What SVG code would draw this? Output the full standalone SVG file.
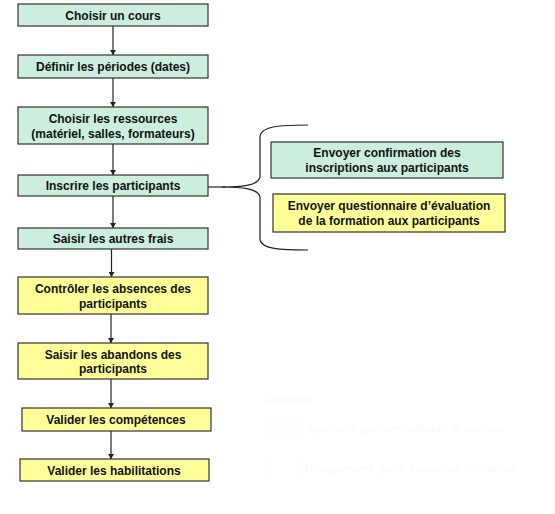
<svg xmlns="http://www.w3.org/2000/svg" width="555" height="514" viewBox="0 0 555 514">
<style>
  .g { fill: #cceedd; stroke: #333333; stroke-width: 1.2; }
  .y { fill: #ffff99; stroke: #333333; stroke-width: 1.2; }
  text { font-family: "Liberation Sans", Arial, sans-serif; font-size: 12px; font-weight: bold; fill: #111111; text-anchor: middle; }
  .conn { stroke: #222222; stroke-width: 1.2; fill: none; }
  .leg text { fill: #fafafa; text-anchor: start; }
</style>
<defs>
  <marker id="ah" markerWidth="6" markerHeight="6" refX="5" refY="3" orient="auto" markerUnits="userSpaceOnUse">
    <path d="M0,0 L5,3 L0,6 Z" fill="#222222"/>
  </marker>
</defs>
<rect width="555" height="514" fill="#ffffff"/>
<g id="connectors">
  <line class="conn" x1="113" y1="26" x2="113" y2="55" marker-end="url(#ah)"/>
  <line class="conn" x1="113" y1="78" x2="113" y2="107" marker-end="url(#ah)"/>
  <line class="conn" x1="113" y1="144" x2="113" y2="175" marker-end="url(#ah)"/>
  <line class="conn" x1="113" y1="196" x2="113" y2="228" marker-end="url(#ah)"/>
  <line class="conn" x1="111.5" y1="249" x2="111.5" y2="277" marker-end="url(#ah)"/>
  <line class="conn" x1="111" y1="314" x2="111" y2="343" marker-end="url(#ah)"/>
  <line class="conn" x1="111" y1="379" x2="111" y2="408" marker-end="url(#ah)"/>
  <line class="conn" x1="111" y1="431" x2="111" y2="459" marker-end="url(#ah)"/>
  <line class="conn" x1="208" y1="187" x2="226" y2="187"/>
  <path class="conn" d="M308,125 C280,125 262,126 260,136 L260,177 C258,186 240,187 222,187 C240,187 258,188 260,197 L260,240 C262,249 280,250 308,250"/>
</g>
<g id="n1"><rect class="g" x="18" y="4" width="190" height="22"/><text x="113" y="20">Choisir un cours</text></g>
<g id="n2"><rect class="g" x="18" y="55" width="190" height="23"/><text x="113" y="71">Définir les périodes (dates)</text></g>
<g id="n3"><rect class="g" x="18" y="107" width="190" height="37"/><text x="113" y="123">Choisir les ressources</text><text x="113" y="137.5">(matériel, salles, formateurs)</text></g>
<g id="n4"><rect class="g" x="18" y="175" width="190" height="21"/><text x="113" y="190">Inscrire les participants</text></g>
<g id="n5"><rect class="g" x="18" y="228" width="190" height="21"/><text x="113" y="243">Saisir les autres frais</text></g>
<g id="n6"><rect class="y" x="18" y="277" width="190" height="37"/><text x="113" y="293">Contrôler les absences des</text><text x="113" y="307.5">participants</text></g>
<g id="n7"><rect class="y" x="18" y="343" width="190" height="36"/><text x="113" y="358.5">Saisir les abandons des</text><text x="113" y="373">participants</text></g>
<g id="n8"><rect class="y" x="22" y="408" width="189" height="23"/><text x="116" y="424">Valider les compétences</text></g>
<g id="n9"><rect class="y" x="20" y="459" width="189" height="22"/><text x="114" y="475">Valider les habilitations</text></g>
<g id="nA"><rect class="g" x="271" y="142" width="232" height="36"/><text x="387" y="157">Envoyer confirmation des</text><text x="387" y="171.5">inscriptions aux participants</text></g>
<g id="nB"><rect class="y" x="273" y="194" width="232" height="38"/><text x="389" y="210">Envoyer questionnaire d’évaluation</text><text x="389" y="224.5">de la formation aux participants</text></g>
<g id="legend" class="leg">
  <text x="265" y="403">Légende</text>
  <rect x="267" y="416" width="35" height="24" fill="#fdfefd" stroke="#fafafa"/>
  <text x="305" y="433">Sessions présentielles et distantes</text>
  <rect x="267" y="456" width="35" height="24" fill="#fffffd" stroke="#fafafa"/>
  <text x="305" y="473">Uniquement dans sessions distantes</text>
</g>
</svg>
